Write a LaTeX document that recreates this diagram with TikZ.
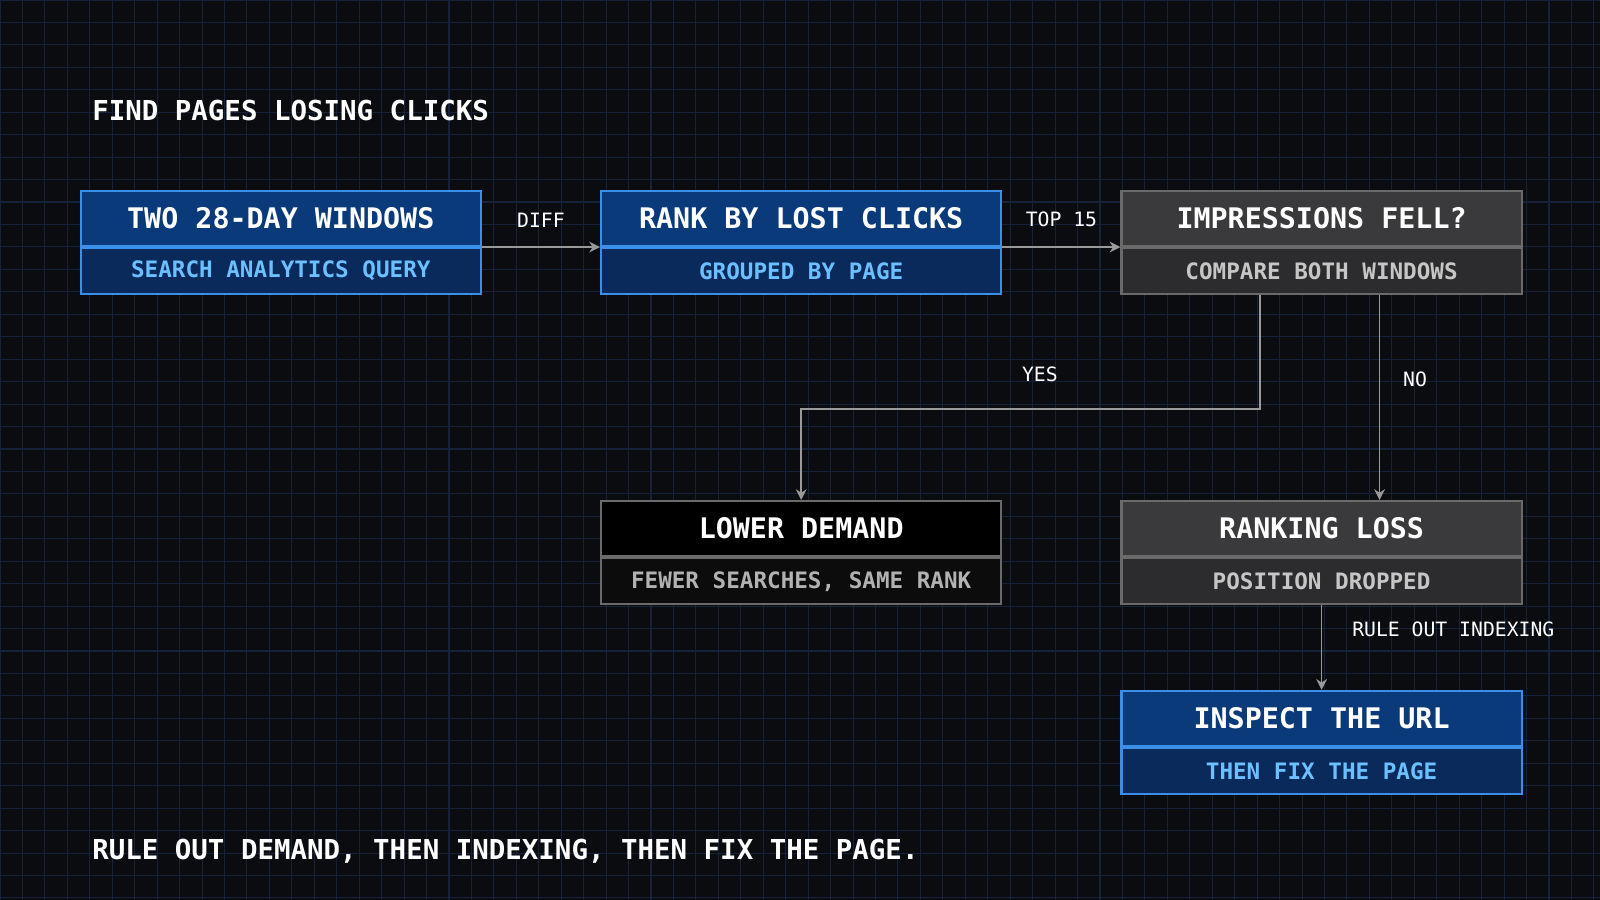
\documentclass[tikz,border=0pt]{standalone}
\usepackage{fontspec}
\setmainfont{DejaVu Sans Mono}
\usetikzlibrary{arrows.meta}
\definecolor{bgcol}{HTML}{0A0C10}
\definecolor{gridcol}{HTML}{15223A}
\definecolor{bluetop}{HTML}{0B3A7A}
\definecolor{bluebot}{HTML}{0A2A5C}
\definecolor{blueline}{HTML}{3B8FE8}
\definecolor{bluetext}{HTML}{6CC0FF}
\definecolor{graytop}{HTML}{3A3A3C}
\definecolor{graybot}{HTML}{2C2C2E}
\definecolor{grayline}{HTML}{6A6A6A}
\definecolor{blacktop}{HTML}{000000}
\definecolor{blackbot}{HTML}{0C0C0C}
\definecolor{wirecol}{HTML}{9A9A9A}
\tikzset{
  boxtitle/.style={minimum width=3.92cm, minimum height=0.54cm, inner sep=0pt,
    font=\fontsize{7.9}{9}\selectfont\bfseries, text=white},
  boxsub/.style={minimum width=3.92cm, minimum height=0.45cm, inner sep=0pt,
    font=\fontsize{6.3}{8}\selectfont\bfseries},
  blue/.style={fill=#1, draw=blueline, line width=0.6pt},
  wire/.style={draw=wirecol, line width=0.45pt, -{Stealth[length=3pt,width=3pt]}},
  wirelabel/.style={font=\fontsize{5.5}{7}\selectfont, text=white}
}
% box: name, left x, top y, top colour, bottom colour, line, sub text, title, sub
\newcommand{\flowbox}[9]{
  \node[boxtitle, fill=#4, draw=#6, line width=0.6pt, anchor=north west] (#1) at (#2,#3) {#8};
  \node[boxsub, fill=#5, draw=#6, line width=0.6pt, text=#7, anchor=north] (#1s) at (#1.south) {#9};
}
\begin{document}
\begin{tikzpicture}[x=0.01cm, y=-0.01cm]
  % background and grid
  \fill[bgcol] (0,0) rectangle (1568,882);
  \useasboundingbox (0,0) rectangle (1568,882);
  \foreach \i in {0,22,...,1568} \draw[gridcol, line width=0.3pt] (\i,0) -- (\i,882);
  \foreach \j in {0,22,...,882} \draw[gridcol, line width=0.3pt] (0,\j) -- (1568,\j);
  % texts
  \node[anchor=west, text=white, font=\fontsize{7.65}{9}\selectfont\bfseries] (head) at (78,108) {FIND PAGES LOSING CLICKS};
  \node[anchor=west, text=white, font=\fontsize{7.65}{9}\selectfont\bfseries] (foot) at (78,834) {RULE OUT DEMAND, THEN INDEXING, THEN FIX THE PAGE.};
  % boxes
  \flowbox{windows}{78}{186}{bluetop}{bluebot}{blueline}{bluetext}{TWO 28-DAY WINDOWS}{SEARCH ANALYTICS QUERY}
  \flowbox{rank}{588}{186}{bluetop}{bluebot}{blueline}{bluetext}{RANK BY LOST CLICKS}{GROUPED BY PAGE}
  \flowbox{impr}{1098}{186}{graytop}{graybot}{grayline}{gray!45}{IMPRESSIONS FELL?}{COMPARE BOTH WINDOWS}
  \flowbox{demand}{588}{490}{blacktop}{blackbot}{grayline}{gray!60}{LOWER DEMAND}{FEWER SEARCHES, SAME RANK}
  \flowbox{ranking}{1098}{490}{graytop}{graybot}{grayline}{gray!45}{RANKING LOSS}{POSITION DROPPED}
  \flowbox{inspect}{1098}{676}{bluetop}{bluebot}{blueline}{bluetext}{INSPECT THE URL}{THEN FIX THE PAGE}
  % connectors
  \draw[wire] (windows.south east) -- node[wirelabel, above=2pt] {DIFF} (rank.south west);
  \draw[wire] (rank.south east) -- node[wirelabel, above=2pt] {TOP 15} (impr.south west);
  \coordinate (yesturn) at (1235,401);
  \draw[wire] (imprs.south -| yesturn) -- (yesturn) -- node[wirelabel, above=4pt, pos=0.48] {YES} (yesturn -| demand.north) -- (demand.north);
  \draw[wire] (imprs.south -| 1352,0) -- node[wirelabel, right=3pt, pos=0.41] {NO} (ranking.north -| 1352,0);
  \draw[wire] (rankings.south) -- node[wirelabel, anchor=west, xshift=5pt, pos=0.28] {RULE OUT INDEXING} (inspect.north);
\end{tikzpicture}
\end{document}
